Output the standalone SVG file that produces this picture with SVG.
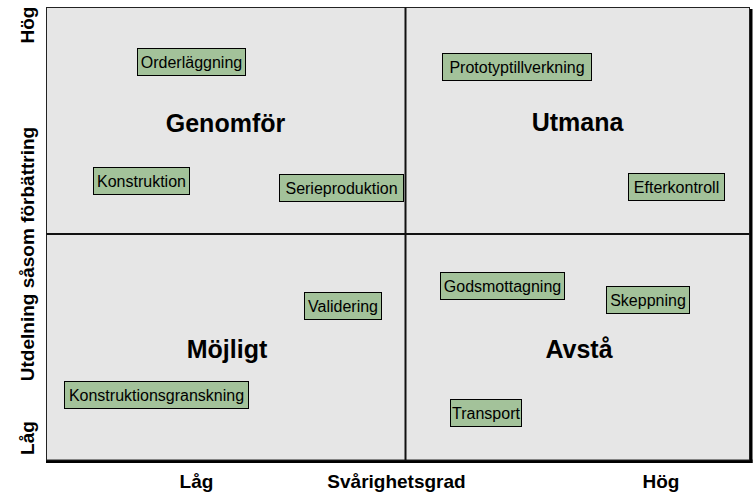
<svg xmlns="http://www.w3.org/2000/svg" width="756" height="497" viewBox="0 0 756 497">
  <style>
    .plot { fill: #e6e6e6; stroke: #222; stroke-width: 1; }
    .shadow { fill: #000; }
    .divider { stroke: #111; stroke-width: 2; fill: none; }
    .box { fill: #a3c29a; stroke: #000; stroke-width: 1; }
    .boxtext { font-family: "Liberation Sans", Arial, sans-serif; font-size: 16px; fill: #000; text-anchor: middle; }
    .quad { font-family: "Liberation Sans", Arial, sans-serif; font-size: 25px; font-weight: bold; fill: #000; text-anchor: middle; }
    .axis { font-family: "Liberation Sans", Arial, sans-serif; font-size: 19px; font-weight: bold; fill: #000; text-anchor: middle; }
  </style>
  <rect x="0" y="0" width="756" height="497" fill="#ffffff"/>

  <g id="plot-area">
    <rect class="shadow" x="749" y="9" width="3.5" height="454"/>
    <rect class="shadow" x="46" y="459.5" width="706.5" height="3.5"/>
    <rect class="plot" x="46.5" y="7.5" width="703" height="452.5"/>
    <line class="divider" x1="405.5" y1="7.5" x2="405.5" y2="460"/>
    <line class="divider" x1="46.5" y1="234" x2="749.5" y2="234"/>
  </g>

  <g id="quadrant-labels">
    <text class="quad" x="225.5" y="131.5">Genomför</text>
    <text class="quad" x="577.5" y="131">Utmana</text>
    <text class="quad" x="227" y="357.5">Möjligt</text>
    <text class="quad" x="579" y="357.5">Avstå</text>
  </g>

  <g id="axis-labels">
    <text class="axis" x="196.5" y="488">Låg</text>
    <text class="axis" x="396.5" y="488">Svårighetsgrad</text>
    <text class="axis" x="661" y="488">Hög</text>
    <text class="axis" transform="translate(33.5,25) rotate(-90)">Hög</text>
    <text class="axis" transform="translate(33.5,254) rotate(-90)">Utdelning såsom förbättring</text>
    <text class="axis" transform="translate(33.5,438) rotate(-90)">Låg</text>
  </g>

  <g id="node-orderlaggning">
    <rect class="box" x="137.5" y="48.5" width="108" height="27"/>
    <text class="boxtext" x="191.5" y="68">Orderläggning</text>
  </g>
  <g id="node-konstruktion">
    <rect class="box" x="93.5" y="167.5" width="96" height="27"/>
    <text class="boxtext" x="141.5" y="187">Konstruktion</text>
  </g>
  <g id="node-serieproduktion">
    <rect class="box" x="279.5" y="174.5" width="124" height="27"/>
    <text class="boxtext" x="341.5" y="194">Serieproduktion</text>
  </g>
  <g id="node-prototyptillverkning">
    <rect class="box" x="442.5" y="53.5" width="149" height="27"/>
    <text class="boxtext" x="517" y="73">Prototyptillverkning</text>
  </g>
  <g id="node-efterkontroll">
    <rect class="box" x="628.5" y="173.5" width="96" height="27"/>
    <text class="boxtext" x="676.5" y="193">Efterkontroll</text>
  </g>
  <g id="node-validering">
    <rect class="box" x="304.5" y="292.5" width="77" height="27"/>
    <text class="boxtext" x="343" y="312">Validering</text>
  </g>
  <g id="node-konstruktionsgranskning">
    <rect class="box" x="64.5" y="381.5" width="184" height="27"/>
    <text class="boxtext" x="156.5" y="401">Konstruktionsgranskning</text>
  </g>
  <g id="node-godsmottagning">
    <rect class="box" x="440.5" y="272.5" width="124" height="27"/>
    <text class="boxtext" x="502.5" y="292">Godsmottagning</text>
  </g>
  <g id="node-skeppning">
    <rect class="box" x="606.5" y="286.5" width="83" height="27"/>
    <text class="boxtext" x="648" y="306">Skeppning</text>
  </g>
  <g id="node-transport">
    <rect class="box" x="450.5" y="399.5" width="71" height="27"/>
    <text class="boxtext" x="486" y="419">Transport</text>
  </g>

  <g id="connectors"></g>
</svg>
